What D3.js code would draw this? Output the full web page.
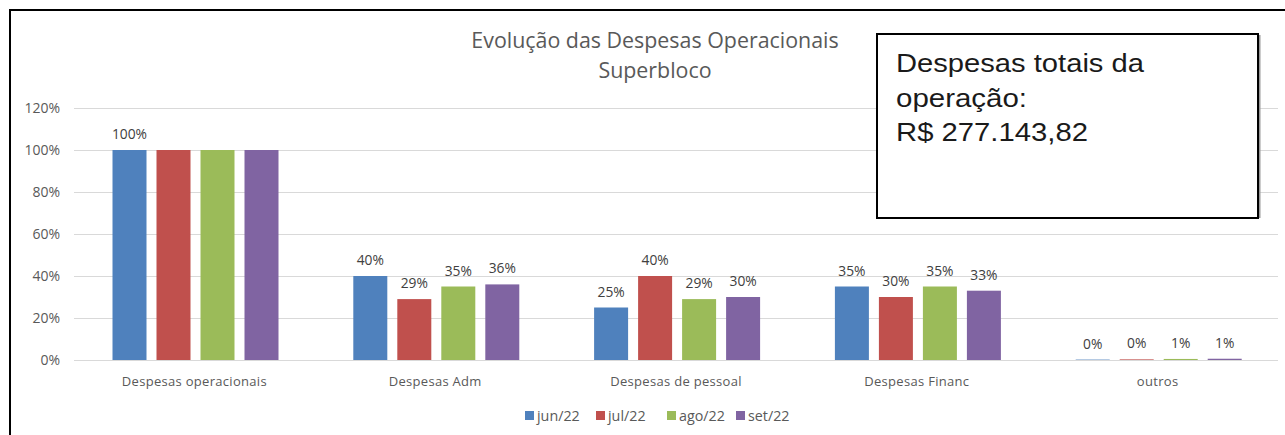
<!DOCTYPE html>
<html><head><meta charset="utf-8">
<script src="https://cdn.jsdelivr.net/npm/d3@7"></script>
<style>
html,body{margin:0;padding:0;background:#fff;overflow:hidden}
svg{display:block}
</style></head>
<body>
<svg id="chart" width="1285" height="435"></svg>
<script>
const categories = ["Despesas operacionais","Despesas Adm","Despesas de pessoal","Despesas Financ","outros"];
const seriesNames = ["jun/22","jul/22","ago/22","set/22"];
const jun22 = [1.00, 0.40, 0.25, 0.35, 0.002];
const jul22 = [1.00, 0.29, 0.40, 0.30, 0.003];
const ago22 = [1.00, 0.35, 0.29, 0.35, 0.005];
const set22 = [1.00, 0.36, 0.30, 0.33, 0.006];
const showLabel = [[true,false,false,false],[true,true,true,true],[true,true,true,true],[true,true,true,true],[true,true,true,true]];
const yTicks = [0,0.2,0.4,0.6,0.8,1.0,1.2];
const colors = ["#4F81BD","#C0504D","#9BBB59","#8064A2"];
const titleLines = ["Evolução das Despesas Operacionais","Superbloco"];
const boxLines = ["Despesas totais da","operação:","R$ 277.143,82"];

const seriesValues = [jun22, jul22, ago22, set22];
const svg = d3.select("#chart");
const font = "'Open Sans', Lato, sans-serif";
const textCol = "#595959";

// outer chart border
svg.append("rect").attr("x",10).attr("y",10).attr("width",1400).attr("height",600)
  .attr("fill","#fff").attr("stroke","#000").attr("stroke-width",2);

const plot = {left:74, right:1278, top:108, bottom:360};
const x0 = d3.scaleBand().domain(categories).range([plot.left, plot.right]).padding(0);
const x1 = d3.scaleBand().domain(seriesNames).range([38.5, 204.5]).paddingInner(10/44).paddingOuter(0);
const y = d3.scaleLinear().domain([0,1.2]).range([plot.bottom, plot.top]);

// gridlines
svg.append("g").selectAll("line").data(yTicks).join("line")
  .attr("x1",plot.left).attr("x2",plot.right)
  .attr("y1",d=>y(d)+0.5).attr("y2",d=>y(d)+0.5)
  .attr("stroke","#D9D9D9").attr("stroke-width",1);

// y axis labels
const yAxis = d3.axisLeft(y).tickValues(yTicks).tickFormat(d3.format(".0%")).tickSize(0).tickPadding(0);
const ya = svg.append("g").attr("transform",`translate(60,0)`).call(yAxis);
ya.select(".domain").remove();
ya.selectAll("text").attr("font-family",font).attr("font-size",14).attr("fill",textCol);

// bars
const data = [];
categories.forEach((c,ci)=>seriesNames.forEach((s,si)=>data.push({c,s,si,ci,v:seriesValues[si][ci]})));
const g = svg.append("g");
g.selectAll("rect").data(data).join("rect")
  .attr("x",d=>x0(d.c)+x1(d.s)).attr("width",x1.bandwidth())
  .attr("y",d=>y(d.v)).attr("height",d=>y(0)-y(d.v))
  .attr("fill",d=>colors[d.si]);

// data labels
g.selectAll("text").data(data.filter(d=>showLabel[d.ci][d.si])).join("text")
  .attr("x",d=>x0(d.c)+x1(d.s)+x1.bandwidth()/2)
  .attr("y",d=>y(d.v)-11)
  .attr("text-anchor","middle").attr("font-family",font).attr("font-size",13.8).attr("fill","#404040")
  .text(d=>d3.format(".0%")(d.v));

// x axis labels
const xAxis = d3.axisBottom(x0).tickSize(0).tickPadding(0);
const xa = svg.append("g").attr("transform",`translate(0,${plot.bottom+26})`).call(xAxis);
xa.select(".domain").remove();
xa.selectAll("text").attr("font-family",font).attr("font-size",13).attr("fill",textCol).attr("dy","0").attr("letter-spacing","0.3px");

// title
svg.append("g").selectAll("text").data(titleLines).join("text")
  .attr("x",655).attr("y",(d,i)=>48+i*30).attr("text-anchor","middle")
  .attr("font-family",font).attr("font-size",21.4).attr("fill",textCol).text(d=>d);

// legend
const leg = svg.append("g").attr("transform","translate(525,411)");
const legX = [0,71,142,211];
const li = leg.selectAll("g").data(seriesNames).join("g").attr("transform",(d,i)=>`translate(${legX[i]},0)`);
li.append("rect").attr("width",9).attr("height",9).attr("fill",(d,i)=>colors[i]);
li.append("text").attr("x",12).attr("y",9.5).attr("font-family",font).attr("font-size",14.3).attr("fill",textCol).text(d=>d);

// text box
svg.append("rect").attr("x",1259).attr("y",35).attr("width",1.5).attr("height",183).attr("fill","#999");
svg.append("rect").attr("x",877).attr("y",34).attr("width",381).attr("height",184)
  .attr("fill","#fff").attr("stroke","#000").attr("stroke-width",2);
const boxW = [248,131,192];
svg.append("g").selectAll("text").data(boxLines).join("text")
  .attr("x",896).attr("y",(d,i)=>72+i*34.5)
  .attr("font-family","'Liberation Sans', Arial, sans-serif").attr("font-size",26).attr("fill","#1a1a1a")
  .attr("textLength",(d,i)=>boxW[i]).attr("lengthAdjust","spacingAndGlyphs")
  .text(d=>d);
</script>
</body></html>
